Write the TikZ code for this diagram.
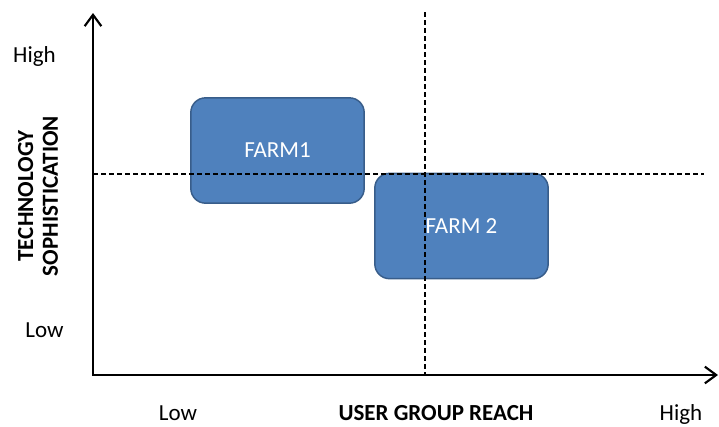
\documentclass[tikz,border=0pt]{standalone}
\usepackage{fontspec}
\setmainfont{Carlito}
\usetikzlibrary{arrows.meta}
\definecolor{farmfill}{HTML}{4F81BD}
\definecolor{farmline}{HTML}{385D8A}
\begin{document}
\begin{tikzpicture}[x=0.75pt,y=-0.75pt,
  farmbox/.style={draw=farmline, fill=farmfill, line width=1.1pt, rounded corners=11pt,
    minimum width=130pt, minimum height=79pt, text=white, inner sep=0pt,
    font=\fontsize{17.25}{20}\selectfont},
  lbl/.style={anchor=base, inner sep=0pt, font=\fontsize{17.25}{20}\selectfont},
  axislbl/.style={inner sep=0pt, font=\fontsize{17.25}{20}\selectfont\bfseries, align=center},
  axisline/.style={line width=2.2pt, line join=miter,
    {Straight Barb[length=8.5pt,width=12.5pt,line width=1.6pt]}-{Straight Barb[length=8.5pt,width=12.5pt,line width=1.6pt]}},
  guide/.style={line width=1pt, dash pattern=on 3.75pt off 2.25pt}
]
\useasboundingbox (0,0) rectangle (719,426);
% boxes
\node[farmbox] (f1) at (277.5,150.5) {FARM1};
\node[farmbox] (f2) at (461.5,226) {FARM 2};
% guide lines
\coordinate (vtop) at (425,12);
\coordinate (vbot) at (425,375);
\coordinate (hl) at (93,174);
\coordinate (hr) at (704,174);
\draw[guide] (vtop) -- (vbot);
\draw[guide] (hl) -- (hr);
% axes
\coordinate (o) at (93,375);
\coordinate (ytop) at (93,13);
\coordinate (xend) at (718,375);
\draw[axisline] (ytop) -- (o) -- (xend);
% labels
\node[lbl] (yhigh) at (34.5,62) {High};
\node[lbl] (ylow) at (44.5,337) {Low};
\node[lbl] (xlow) at (178,420) {Low};
\node[lbl] (xhigh) at (681,420) {High};
\node[axislbl, anchor=base] (xt) at (436,420) {USER GROUP REACH};
\node[axislbl, rotate=90] (yt) at (38,196) {TECHNOLOGY\\[-1.5pt]SOPHISTICATION};
\end{tikzpicture}
\end{document}
